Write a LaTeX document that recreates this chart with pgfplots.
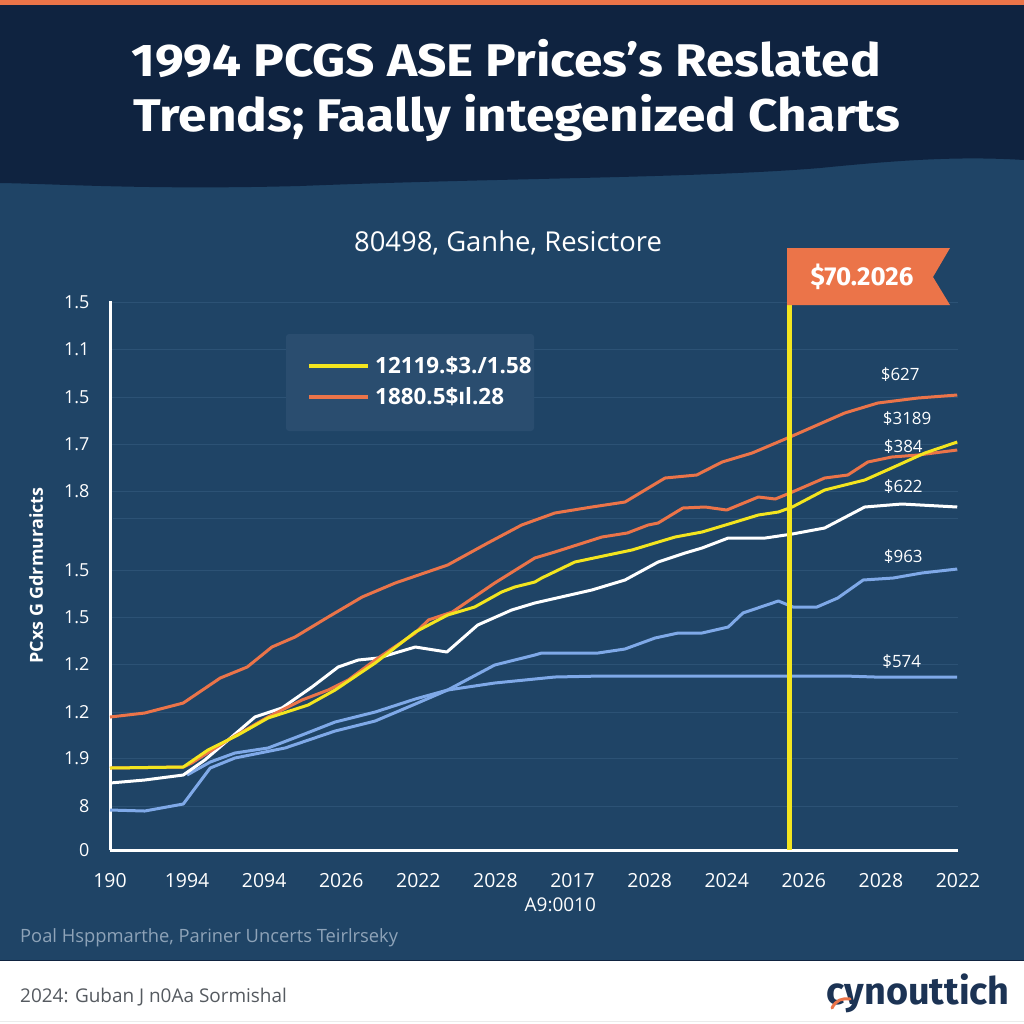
\documentclass[border=0pt]{standalone}
\usepackage{pgfplots}
\pgfplotsset{compat=1.18}
\usepackage{fontspec}
\setmainfont{Open Sans}
\newfontfamily\fira{Fira Sans}
\newfontfamily\firaw{Fira Sans}[FakeStretch=1.12]
\definecolor{hdr}{HTML}{0F2340}
\definecolor{pnl}{HTML}{1F4466}
\definecolor{org}{HTML}{EB7449}
\definecolor{ylw}{HTML}{F3E51F}
\definecolor{lbl}{HTML}{7FA9E8}
\definecolor{grd}{HTML}{2C5275}
\definecolor{legbg}{HTML}{2A4D6F}
\definecolor{foot}{HTML}{8EA3B8}
\definecolor{logo}{HTML}{1C3354}
\definecolor{ftxt}{HTML}{555A60}
\begin{document}
\begin{tikzpicture}
\begin{scope}[x=1bp,y=1bp]
\useasboundingbox (0,0) rectangle (1024,-1024);
% backgrounds
\fill[white] (0,0) rectangle (1024,-1024);
\fill[pnl] (0,0) rectangle (1024,-960);
\fill[hdr] (0,0) -- (1024,0) -- (1024,-160) .. controls (960,-156) and (900,-160) .. (820,-168)
  .. controls (700,-178) and (500,-178) .. (300,-186) .. controls (150,-190) and (60,-184) .. (0,-183) -- cycle;
\fill[org] (0,0) rectangle (1024,-5);
\draw[hdr, line width=1.5bp] (0,-960.5) -- (1024,-960.5);
\draw[black!8, line width=1bp] (0,-1021.5) -- (1024,-1021.5);
% faint extra grid line
\draw[grd, line width=1bp] (113,-518) -- (958,-518);
% title
\node[anchor=base, text=white, inner sep=0] at (506,-76) {\firaw\bfseries\fontsize{46}{54}\selectfont 1994 PCGS ASE Prices’s Reslated};
\node[anchor=base, text=white, inner sep=0] at (517,-131) {\firaw\bfseries\fontsize{46}{54}\selectfont Trends; Faally integenized Charts};
% subtitle
\node[text=white, inner sep=0] at (508,-243) {\fontsize{27.5}{32}\selectfont 80498, Ganhe, Resictore};
\end{scope}
\begin{axis}[
  at={(110bp,-850bp)}, anchor=south west,
  scale only axis, width=848bp, height=549bp,
  xmin=0, xmax=11, ymin=0, ymax=549,
  axis x line=bottom, axis y line=left,
  axis line style={-, white, line width=3bp},
  xtick={0,...,11},
  xticklabels={190,1994,2094,2026,2022,2028,2017,2028,2024,2026,2028,2022},
  ytick={0,44,92,138,186,233,280,359,406,453,501,548},
  yticklabels={0,8,1.9,1.2,1.2,1.5,1.5,1.8,1.7,1.5,1.1,1.5},
  ymajorgrids, major grid style={grd, line width=1bp},
  major tick length=0pt,
  tick label style={white},
  xticklabel style={font=\fontsize{19.5}{22}\selectfont, yshift=-20bp},
  yticklabel style={font=\fontsize{18}{21}\selectfont, xshift=-17bp},
  xlabel={A9:0010},
  xlabel style={white, font=\fontsize{19}{22}\selectfont, at={(axis description cs:0.531,-0.1)}, anchor=center},
  ylabel={PCxs G Gdrmuraicts},
  ylabel style={white, font=\fontsize{18}{22}\selectfont\bfseries, at={(axis description cs:-0.087,0.5)}, anchor=center},
  clip=false,
  every axis plot/.append style={line width=3bp, line join=round},
]
% light blue A ($574)
\addplot[lbl] coordinates {(1.00,75) (1.30,88) (1.62,97) (2.05,102) (2.49,115) (2.92,128) (3.44,138) (3.96,151) (4.38,160) (4.99,167) (5.38,170) (5.77,173) (6.38,174) (7.98,174) (9.53,174) (9.92,173) (10.99,173)};
% light blue B ($963)
\addplot[lbl] coordinates {(0,40) (0.45,39) (0.95,46) (1.30,82) (1.62,92) (2.27,102) (2.92,119) (3.44,129) (3.96,146) (4.38,160) (4.99,185) (5.51,195) (5.60,197) (6.33,197) (6.68,201) (7.07,212) (7.37,217) (7.68,217) (8.02,223) (8.21,237) (8.67,249) (8.86,243) (9.17,243) (9.44,252) (9.77,270) (10.16,272) (10.53,277) (10.99,281)};
% white
\addplot[white] coordinates {(0,67) (0.45,70) (0.95,75) (1.23,90) (1.88,133) (2.23,142) (2.62,163) (2.96,183) (3.22,190) (3.48,192) (3.96,203) (4.37,198) (4.77,225) (5.21,240) (5.51,247) (6.25,260) (6.68,270) (7.11,288) (7.46,297) (7.68,302) (8.02,312) (8.50,312) (8.85,316) (9.27,322) (9.79,343) (10.27,346) (10.99,343)};
% orange upper
\addplot[org] coordinates {(0,133) (0.45,137) (0.95,147) (1.43,172) (1.78,183) (2.10,203) (2.40,213) (2.83,233) (3.27,253) (3.70,267) (4.38,285) (4.90,307) (5.34,325) (5.77,337) (6.25,343) (6.68,348) (7.20,372) (7.61,375) (7.94,388) (8.33,397) (8.82,413) (9.53,437) (9.96,447) (10.48,452) (10.99,455)};
% orange lower
\addplot[org] coordinates {(0,82) (0.95,83) (1.06,87) (1.53,110) (2.05,133) (2.49,150) (2.83,160) (3.09,170) (3.44,190) (3.96,217) (4.13,230) (4.44,238) (4.99,267) (5.51,292) (5.77,298) (6.38,313) (6.71,317) (6.98,325) (7.11,327) (7.43,342) (7.72,343) (8.00,340) (8.41,353) (8.63,351) (8.82,357) (9.27,372) (9.57,375) (9.83,388) (10.14,393) (10.48,395) (10.99,400)};
% yellow
\addplot[ylw] coordinates {(0,82) (0.95,83) (1.27,100) (1.66,115) (2.05,132) (2.57,145) (2.92,160) (3.44,187) (3.96,218) (4.38,235) (4.73,243) (5.08,258) (5.25,263) (5.51,268) (5.60,272) (6.03,288) (6.46,295) (6.77,300) (7.07,307) (7.33,313) (7.68,318) (8.07,327) (8.41,335) (8.67,338) (8.85,343) (9.27,360) (9.79,370) (10.14,382) (10.57,397) (10.99,408)};
% vertical marker
\addplot[ylw, line width=5bp] coordinates {(8.82,0) (8.82,545)};
% value labels
\begin{scope}[every node/.style={text=white, font=\fontsize{17}{20}\selectfont}]
\node at (axis cs:10.25,475) {\$627};
\node at (axis cs:10.34,431) {\$3189};
\node at (axis cs:10.29,403) {\$384};
\node at (axis cs:10.29,363) {\$622};
\node at (axis cs:10.29,293) {\$963};
\node at (axis cs:10.27,188) {\$574};
\end{scope}
\end{axis}
\begin{scope}[x=1bp,y=1bp]
% flag
\fill[org] (787,-248) -- (950,-248) -- (933,-277) -- (950,-305) -- (787,-305) -- cycle;
\node[text=white] at (862,-277) {\fira\bfseries\fontsize{26}{30}\selectfont \$70.2026};
% legend
\fill[legbg, rounded corners=3bp] (286,-334) rectangle (534,-431);
\draw[ylw, line width=4bp] (309,-366) -- (368,-366);
\draw[org, line width=4bp] (309,-397) -- (368,-397);
\node[anchor=west, text=white, inner sep=0] at (375,-366) {\fontsize{22.5}{26}\selectfont\bfseries 12119.\$3./1.58};
\node[anchor=west, text=white, inner sep=0] at (375,-397) {\fontsize{22.5}{26}\selectfont\bfseries 1880.5\$ıl.28};
% footnote
\node[anchor=west, text=foot, inner sep=0] at (20,-938) {\fontsize{18.4}{22}\selectfont Poal Hsppmarthe, Pariner Uncerts Teirlrseky};
% footer
\node[anchor=west, text=ftxt, inner sep=0] at (20,-997) {\fontsize{19}{23}\selectfont 2024: Guban J n0Aa Sormishal};
\node[anchor=east, text=logo, inner sep=0] at (1010,-993) {\fira\bfseries\fontsize{38}{44}\selectfont cynouttich};
\draw[org, line width=3bp, line cap=round] (832,-1008) .. controls (836,-1000) and (842,-998) .. (850,-999);
\end{scope}
\end{tikzpicture}
\end{document}
